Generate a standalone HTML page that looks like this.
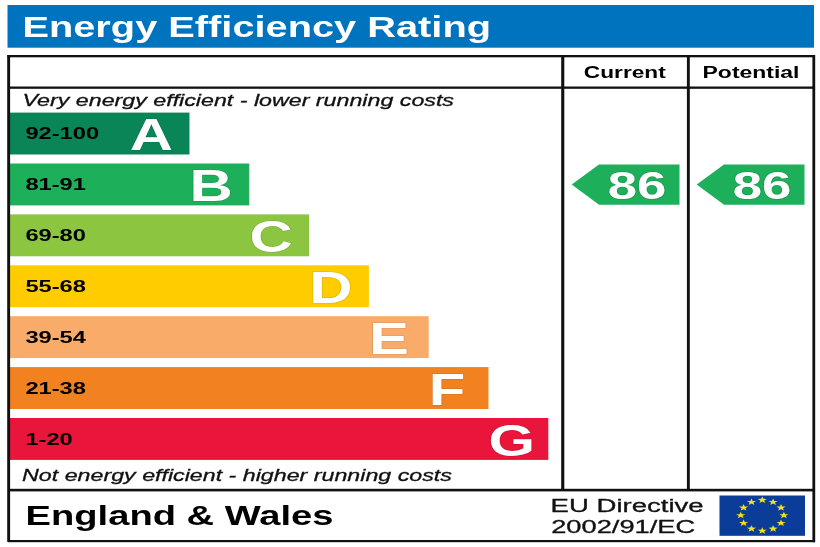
<!DOCTYPE html>
<html><head><meta charset="utf-8"><title>Energy Efficiency Rating</title>
<style>html,body{margin:0;padding:0;background:#fff;overflow:hidden} svg{display:block;will-change:transform} text{font-family:"Liberation Sans",sans-serif}</style>
</head><body>
<svg width="820" height="547" viewBox="0 0 820 547" font-family="Liberation Sans, sans-serif"><rect x="0" y="0" width="820" height="547" fill="#fff"/>
<rect x="7.5" y="5" width="806.5" height="42.7" fill="#0073be"/>
<text transform="translate(22.40,37.10) scale(1.382,1)" font-size="28.8" font-weight="bold" font-style="normal" fill="#fff" text-anchor="start" >Energy Efficiency Rating</text>
<rect x="10" y="112.60" width="179.50" height="41.9" fill="#0a8557"/>
<text transform="translate(25.40,139.40) scale(1.385,1)" font-size="17.1" font-weight="bold" font-style="normal" fill="#000" text-anchor="start" >92-100</text>
<text transform="translate(129.80,150.10) scale(1.3667,1)" font-size="43.8" font-weight="bold" font-style="normal" fill="#fff" text-anchor="start" stroke="rgba(0,0,0,0.12)" stroke-width="1.2" paint-order="stroke">A</text>
<rect x="10" y="163.50" width="239.30" height="41.9" fill="#1daf5a"/>
<text transform="translate(25.40,190.30) scale(1.385,1)" font-size="17.1" font-weight="bold" font-style="normal" fill="#000" text-anchor="start" >81-91</text>
<text transform="translate(189.60,201.00) scale(1.3667,1)" font-size="43.8" font-weight="bold" font-style="normal" fill="#fff" text-anchor="start" stroke="rgba(0,0,0,0.12)" stroke-width="1.2" paint-order="stroke">B</text>
<rect x="10" y="214.40" width="299.10" height="41.9" fill="#8cc640"/>
<text transform="translate(25.40,241.20) scale(1.385,1)" font-size="17.1" font-weight="bold" font-style="normal" fill="#000" text-anchor="start" >69-80</text>
<text transform="translate(249.40,251.90) scale(1.3667,1)" font-size="43.8" font-weight="bold" font-style="normal" fill="#fff" text-anchor="start" stroke="rgba(0,0,0,0.12)" stroke-width="1.2" paint-order="stroke">C</text>
<rect x="10" y="265.30" width="358.90" height="41.9" fill="#ffcc00"/>
<text transform="translate(25.40,292.10) scale(1.385,1)" font-size="17.1" font-weight="bold" font-style="normal" fill="#000" text-anchor="start" >55-68</text>
<text transform="translate(309.20,302.80) scale(1.3667,1)" font-size="43.8" font-weight="bold" font-style="normal" fill="#fff" text-anchor="start" stroke="rgba(0,0,0,0.12)" stroke-width="1.2" paint-order="stroke">D</text>
<rect x="10" y="316.20" width="418.70" height="41.9" fill="#f9ac6a"/>
<text transform="translate(25.40,343.00) scale(1.385,1)" font-size="17.1" font-weight="bold" font-style="normal" fill="#000" text-anchor="start" >39-54</text>
<text transform="translate(369.00,353.70) scale(1.3667,1)" font-size="43.8" font-weight="bold" font-style="normal" fill="#fff" text-anchor="start" stroke="rgba(0,0,0,0.12)" stroke-width="1.2" paint-order="stroke">E</text>
<rect x="10" y="367.10" width="478.50" height="41.9" fill="#f2811f"/>
<text transform="translate(25.40,393.90) scale(1.385,1)" font-size="17.1" font-weight="bold" font-style="normal" fill="#000" text-anchor="start" >21-38</text>
<text transform="translate(428.80,404.60) scale(1.3667,1)" font-size="43.8" font-weight="bold" font-style="normal" fill="#fff" text-anchor="start" stroke="rgba(0,0,0,0.12)" stroke-width="1.2" paint-order="stroke">F</text>
<rect x="10" y="418.00" width="538.30" height="41.9" fill="#e9153b"/>
<text transform="translate(25.40,444.80) scale(1.385,1)" font-size="17.1" font-weight="bold" font-style="normal" fill="#000" text-anchor="start" >1-20</text>
<text transform="translate(488.60,455.50) scale(1.3667,1)" font-size="43.8" font-weight="bold" font-style="normal" fill="#fff" text-anchor="start" stroke="rgba(0,0,0,0.12)" stroke-width="1.2" paint-order="stroke">G</text>
<text transform="translate(22.50,105.70) scale(1.3667,1)" font-size="17" font-weight="normal" font-style="italic" fill="#111" text-anchor="start" stroke="#111" stroke-width="0.3">Very energy efficient - lower running costs</text>
<text transform="translate(22.10,480.60) scale(1.3667,1)" font-size="17" font-weight="normal" font-style="italic" fill="#111" text-anchor="start" stroke="#111" stroke-width="0.3">Not energy efficient - higher running costs</text>
<text transform="translate(624.80,77.60) scale(1.3667,1)" font-size="16.6" font-weight="bold" font-style="normal" fill="#000" text-anchor="middle" >Current</text>
<text transform="translate(751.00,77.70) scale(1.3667,1)" font-size="16.8" font-weight="bold" font-style="normal" fill="#000" text-anchor="middle" >Potential</text>
<polygon points="571.7,184.5 599,164.5 679.5,164.5 679.5,204.7 599,204.7" fill="#1daf5a"/>
<text transform="translate(637.10,198.70) scale(1.3667,1)" font-size="38.6" font-weight="bold" font-style="normal" fill="#fff" text-anchor="middle" stroke="rgba(0,0,0,0.12)" stroke-width="1.4" paint-order="stroke">86</text>
<polygon points="696.7,184.5 724,164.5 804.5,164.5 804.5,204.7 724,204.7" fill="#1daf5a"/>
<text transform="translate(762.10,198.70) scale(1.3667,1)" font-size="38.6" font-weight="bold" font-style="normal" fill="#fff" text-anchor="middle" stroke="rgba(0,0,0,0.12)" stroke-width="1.4" paint-order="stroke">86</text>
<text transform="translate(25.60,524.80) scale(1.402,1)" font-size="27.2" font-weight="bold" font-style="normal" fill="#000" text-anchor="start" >England &amp; Wales</text>
<text transform="translate(550.60,511.50) scale(1.505,1)" font-size="18.3" font-weight="normal" font-style="normal" fill="#111" text-anchor="start" stroke="#111" stroke-width="0.3">EU Directive</text>
<text transform="translate(551.20,533.00) scale(1.49,1)" font-size="18.3" font-weight="normal" font-style="normal" fill="#111" text-anchor="start" stroke="#111" stroke-width="0.3">2002/91/EC</text>
<rect x="719.5" y="495.5" width="85.5" height="40.3" fill="#0b3c97"/>
<polygon points="0.000,-1.000 0.235,-0.324 0.951,-0.309 0.380,0.124 0.588,0.809 0.000,0.400 -0.588,0.809 -0.380,0.124 -0.951,-0.309 -0.235,-0.324" fill="#f7e21a" transform="translate(762.30,500.00) scale(4.92,3.6)"/>
<polygon points="0.000,-1.000 0.235,-0.324 0.951,-0.309 0.380,0.124 0.588,0.809 0.000,0.400 -0.588,0.809 -0.380,0.124 -0.951,-0.309 -0.235,-0.324" fill="#f7e21a" transform="translate(773.10,502.06) scale(4.92,3.6)"/>
<polygon points="0.000,-1.000 0.235,-0.324 0.951,-0.309 0.380,0.124 0.588,0.809 0.000,0.400 -0.588,0.809 -0.380,0.124 -0.951,-0.309 -0.235,-0.324" fill="#f7e21a" transform="translate(781.01,507.70) scale(4.92,3.6)"/>
<polygon points="0.000,-1.000 0.235,-0.324 0.951,-0.309 0.380,0.124 0.588,0.809 0.000,0.400 -0.588,0.809 -0.380,0.124 -0.951,-0.309 -0.235,-0.324" fill="#f7e21a" transform="translate(783.90,515.40) scale(4.92,3.6)"/>
<polygon points="0.000,-1.000 0.235,-0.324 0.951,-0.309 0.380,0.124 0.588,0.809 0.000,0.400 -0.588,0.809 -0.380,0.124 -0.951,-0.309 -0.235,-0.324" fill="#f7e21a" transform="translate(781.01,523.10) scale(4.92,3.6)"/>
<polygon points="0.000,-1.000 0.235,-0.324 0.951,-0.309 0.380,0.124 0.588,0.809 0.000,0.400 -0.588,0.809 -0.380,0.124 -0.951,-0.309 -0.235,-0.324" fill="#f7e21a" transform="translate(773.10,528.74) scale(4.92,3.6)"/>
<polygon points="0.000,-1.000 0.235,-0.324 0.951,-0.309 0.380,0.124 0.588,0.809 0.000,0.400 -0.588,0.809 -0.380,0.124 -0.951,-0.309 -0.235,-0.324" fill="#f7e21a" transform="translate(762.30,530.80) scale(4.92,3.6)"/>
<polygon points="0.000,-1.000 0.235,-0.324 0.951,-0.309 0.380,0.124 0.588,0.809 0.000,0.400 -0.588,0.809 -0.380,0.124 -0.951,-0.309 -0.235,-0.324" fill="#f7e21a" transform="translate(751.50,528.74) scale(4.92,3.6)"/>
<polygon points="0.000,-1.000 0.235,-0.324 0.951,-0.309 0.380,0.124 0.588,0.809 0.000,0.400 -0.588,0.809 -0.380,0.124 -0.951,-0.309 -0.235,-0.324" fill="#f7e21a" transform="translate(743.59,523.10) scale(4.92,3.6)"/>
<polygon points="0.000,-1.000 0.235,-0.324 0.951,-0.309 0.380,0.124 0.588,0.809 0.000,0.400 -0.588,0.809 -0.380,0.124 -0.951,-0.309 -0.235,-0.324" fill="#f7e21a" transform="translate(740.70,515.40) scale(4.92,3.6)"/>
<polygon points="0.000,-1.000 0.235,-0.324 0.951,-0.309 0.380,0.124 0.588,0.809 0.000,0.400 -0.588,0.809 -0.380,0.124 -0.951,-0.309 -0.235,-0.324" fill="#f7e21a" transform="translate(743.59,507.70) scale(4.92,3.6)"/>
<polygon points="0.000,-1.000 0.235,-0.324 0.951,-0.309 0.380,0.124 0.588,0.809 0.000,0.400 -0.588,0.809 -0.380,0.124 -0.951,-0.309 -0.235,-0.324" fill="#f7e21a" transform="translate(751.50,502.06) scale(4.92,3.6)"/>
<rect x="7.5" y="55.0" width="807.5" height="2.3" fill="#111"/>
<rect x="8" y="540" width="807" height="2.2" fill="#111"/>
<rect x="7.2" y="55.0" width="2.9" height="486.9" fill="#111"/>
<rect x="812.4" y="55.0" width="2.8" height="487.2" fill="#111"/>
<rect x="8" y="86.5" width="807" height="2.3" fill="#111"/>
<rect x="8" y="488.8" width="807" height="2.6" fill="#111"/>
<rect x="561.2" y="55.0" width="3.1" height="435" fill="#111"/>
<rect x="686.9" y="55.0" width="2.9" height="435" fill="#111"/></svg>
</body></html>
